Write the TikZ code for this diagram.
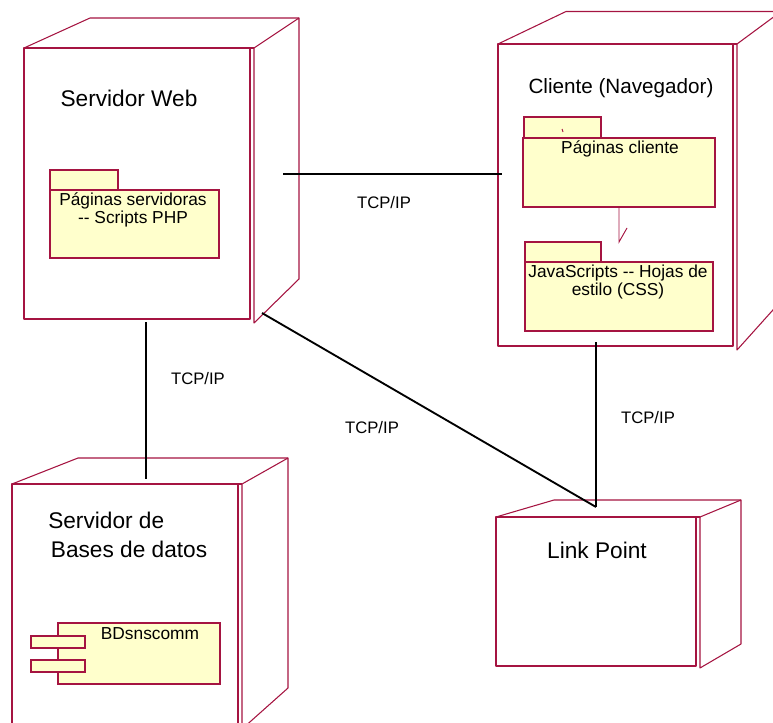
\documentclass[tikz,border=0pt]{standalone}
\usepackage{fontspec}
\setmainfont{Liberation Sans}

\definecolor{umlred}{RGB}{165,20,65}
\definecolor{pkgyellow}{RGB}{255,255,204}

\tikzset{
  box/.style={draw=umlred,line width=0.8pt,line join=round},
  pkg/.style={draw=umlred,fill=pkgyellow,line width=1.1pt},
  link/.style={draw=black,line width=1.4pt},
  dep/.style={draw=umlred,line width=0.7pt},
  title/.style={inner sep=0pt,font=\fontsize{17}{20}\selectfont},
  pkgtext/.style={inner sep=0pt,align=center,font=\fontsize{13}{14}\selectfont},
  tcp/.style={inner sep=0pt,font=\fontsize{12.5}{14}\selectfont}
}

\begin{document}
\begin{tikzpicture}[x=0.75pt,y=-0.75pt]
\useasboundingbox (0,0) rectangle (773,723);
\clip (0,0) rectangle (773,723);

% Servidor Web
\draw[box] (24,48) rectangle (250,319);
\draw[box] (24,48) -- (90,18) -- (299,18);
\draw[box] (250,48) -- (254,48);
\draw[box] (254,323) -- (254,48) -- (299,18) -- (299,279) -- cycle;
\node[title] (webTitle) at (129,98) {Servidor Web};
\draw[pkg] (50,170) rectangle (118,190);
\draw[pkg] (50,190) rectangle (219,258);
\node[pkgtext] (pkgServer) at (133,210) {Páginas servidoras\\ -{}- Scripts PHP};

% Cliente (Navegador)
\draw[box] (498,44) rectangle (733,346);
\draw[box] (498,44) -- (566,11.5) -- (781,11.5);
\draw[box] (733,44) -- (737,44);
\draw[box] (737,350) -- (737,44) -- (781,11.5) -- (781,301) -- cycle;
\node[title,font=\fontsize{15.5}{18}\selectfont] (cliTitle) at (621,88) {Cliente (Navegador)};
\draw[pkg] (524,117) rectangle (601,138);
\draw[pkg] (523,138) rectangle (715,207);
\draw[dep] (562,129) -- (563,132);
\node[pkgtext] (pkgClient) at (620,149) {Páginas cliente};
\draw[pkg] (525,242) rectangle (601,262);
\draw[pkg] (525,262) rectangle (713,331);
\node[pkgtext] (pkgScripts) at (618,282) {JavaScripts -{}- Hojas de\\estilo (CSS)};
\coordinate (depTop) at (619,207);
\coordinate (depEnd) at (619,242);
\draw[dep] (depTop) -- (depEnd) -- (627,228);

% Servidor de Bases de datos
\draw[box] (12,484) rectangle (238,740);
\draw[box] (12,484) -- (78,458) -- (288,458);
\draw[box] (238,484) -- (242,484);
\draw[box] (242,729) -- (242,484) -- (288,458) -- (288,688) -- cycle;
\node[title,align=left,anchor=west,font=\fontsize{17}{21.75}\selectfont] (bdTitle) at (48,535) {Servidor de\\\hspace{2pt}Bases de datos};
\draw[pkg] (58,623) rectangle (220,684);
\draw[pkg] (31,636) rectangle (85,648);
\draw[pkg] (31,660) rectangle (85,672);
\node[pkgtext] (comp) at (150,634) {BDsnscomm};

% Link Point
\draw[box] (496,517) rectangle (696,666);
\draw[box] (496,517) -- (554,500) -- (741,500);
\draw[box] (696,517) -- (700,517);
\draw[box] (700,668) -- (700,517) -- (741,500) -- (741,644) -- cycle;
\node[title] (lpTitle) at (597,550) {Link Point};

% conexiones
\coordinate (webE) at (283,174);
\coordinate (cliW) at (502,174);
\coordinate (webS) at (146,322);
\coordinate (bdN) at (146,479);
\coordinate (webSE) at (262,313);
\coordinate (cliS) at (596,342);
\coordinate (lpN) at (596,507);

\draw[link] (webE) -- (cliW);
\draw[link] (webS) -- (bdN);
\draw[link] (webSE) -- (lpN);
\draw[link] (cliS) -- (lpN);

\node[tcp] (tcpTop) at (384,203) {TCP/IP};
\node[tcp] (tcpLeft) at (198,379) {TCP/IP};
\node[tcp] (tcpMid) at (372,428) {TCP/IP};
\node[tcp] (tcpRight) at (648,418) {TCP/IP};
\end{tikzpicture}
\end{document}
